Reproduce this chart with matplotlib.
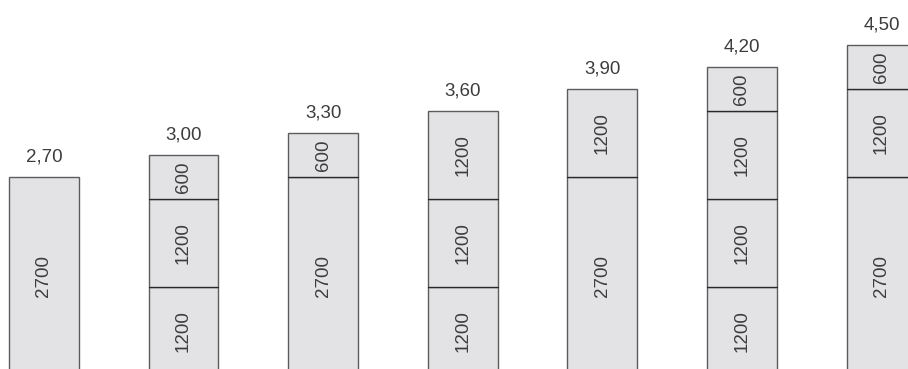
import matplotlib.pyplot as plt

heights = ["2,70", "3,00", "3,30", "3,60", "3,90", "4,20", "4,50"]
stacks = [
    [2700],
    [1200, 1200, 600],
    [2700, 600],
    [1200, 1200, 1200],
    [2700, 1200],
    [1200, 1200, 1200, 600],
    [2700, 1200, 600],
]

plt.rcParams['font.family'] = ['Liberation Sans', 'DejaVu Sans']

fig = plt.figure(figsize=(9.08, 3.69), dpi=100)
ax = fig.add_axes([0, 0, 1, 1])

w = 0.5
fs = 13.5
txt = '#3d3d3d'
for i, segs in enumerate(stacks):
    bottom = 0
    for k, s in enumerate(segs):
        ax.bar(i, s, width=w, bottom=bottom, color='#e3e3e5',
               edgecolor='#5c5c5c', linewidth=1.0)
        ax.text(i, bottom + s / 2, str(s), rotation=90, ha='center', va='center',
                fontsize=fs, color=txt)
        if k > 0:
            # darker dividing line between stacked segments
            ax.plot([i - w / 2, i + w / 2], [bottom, bottom], color='#2a2a2a', lw=0.8)
        bottom += s
    ax.text(i, bottom + 160, heights[i], ha='center', va='bottom',
            fontsize=fs, color=txt)

ax.set_xlim(-0.315, 6.19)
ax.set_ylim(82, 5116)
ax.axis('off')

fig.savefig('out.png', dpi=100)
